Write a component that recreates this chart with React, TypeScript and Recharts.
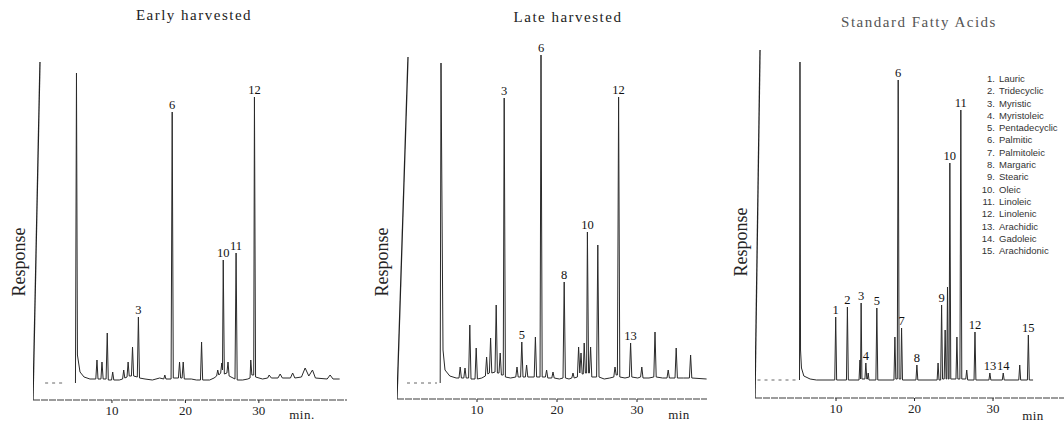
import { LabelList, Line, LineChart, XAxis, YAxis } from 'recharts'

const SERIF = '"Liberation Serif", "DejaVu Serif", serif'
const SANS = '"Liberation Sans", Arial, sans-serif'

const axisTicks = [10, 20, 30]

// Early harvested
const earlyT = [
  5.03, 5.17, 5.3, 5.65, 6.2, 7.0, 7.8, 7.96, 8.1, 8.5, 8.64, 8.8, 9.2, 9.36, 9.5, 9.95, 10.1, 10.25,
  11.0, 11.45, 11.6, 11.75, 12.05, 12.2, 12.35, 12.65, 12.8, 12.95, 13.45, 13.6, 13.75, 14.5, 15.5,
  16.5, 17.05, 17.2, 17.35, 18.05, 18.2, 18.35, 19.05, 19.2, 19.35, 19.55, 19.7, 19.85, 20.8, 21.5,
  22.05, 22.2, 22.35, 23.3, 23.9, 24.25, 24.4, 24.55, 24.8, 24.95, 25.05, 25.15, 25.3, 25.65, 25.8,
  25.95, 26.75, 26.9, 27.05, 27.8, 28.5, 28.8, 28.9, 29.05, 29.3, 29.4, 29.55, 30.5, 31.2, 31.4, 31.7,
  32.6, 32.9, 33.2, 34.3, 34.6, 34.9, 35.8, 36.3, 36.8, 37.3, 37.7, 39.3, 39.7, 40.1, 41.0,
]
const earlyR = [
  17, 327, 45, 28, 23, 21, 21, 40, 21, 21, 38, 21, 21, 67, 20, 20, 28, 20,
  20, 21, 30, 22, 23, 38, 24, 24, 53, 24, 23, 83, 22, 21, 20,
  22, 21, 25, 21, 21, 288, 22, 22, 38, 22, 22, 38, 21, 21, 20,
  20, 58, 20, 20, 22, 24, 30, 25, 27, 37, 30, 140, 26, 27, 38,
  24, 21, 147, 20, 20, 21, 22, 40, 25, 25, 303, 23, 21, 22, 25, 22,
  22, 26, 22, 22, 27, 22, 23, 32, 24, 30, 22, 21, 25, 21, 21,
]
const earlyInjT = [-0.75, 0.2]
const earlyInjR = [0, 338]
const earlyPreT = [0.9, 3.6]
const earlyPreR = [17, 17]
const earlyPeakNo = ['3', '6', '10', '11', '12']
const earlyPeakAt = [13.6, 18.2, 25.15, 26.9, 29.4]

// Late harvested
const lateT = [
  5.4, 5.5, 5.75, 6.0, 6.6, 7.4, 7.75, 7.9, 8.05, 8.35, 8.5, 8.65, 8.95, 9.1, 9.25, 9.75, 9.9, 10.05,
  10.6, 11.05, 11.2, 11.35, 11.55, 11.7, 11.85, 12.25, 12.4, 12.55, 12.75, 12.9, 13.05, 13.28, 13.4,
  13.55, 14.2, 14.85, 15.0, 15.15, 15.45, 15.6, 15.75, 16.05, 16.2, 16.35, 17.15, 17.3, 17.45, 17.88,
  18.0, 18.15, 18.55, 18.7, 18.85, 19.35, 19.5, 19.65, 20.3, 20.75, 20.9, 21.05, 21.5, 21.85, 22.0,
  22.15, 22.55, 22.7, 22.85, 23.0, 23.15, 23.28, 23.4, 23.55, 23.7, 23.8, 23.95, 24.05, 24.2, 24.35,
  24.95, 25.1, 25.25, 25.9, 26.6, 27.1, 27.25, 27.4, 27.55, 27.7, 27.85, 28.5, 29.05, 29.2, 29.35,
  30.1, 30.45, 30.6, 30.75, 31.5, 32.1, 32.25, 32.4, 33.2, 33.75, 33.9, 34.05, 34.75, 34.9, 35.05,
  35.8, 36.55, 36.7, 36.85, 38.7,
]
const lateR = [
  16, 336, 49, 29, 23, 21, 21, 32, 21, 21, 31, 21, 21, 74, 20, 20, 51, 20,
  21, 23, 42, 25, 26, 61, 26, 27, 94, 26, 26, 46, 24, 24, 301,
  22, 21, 22, 32, 22, 22, 57, 22, 22, 34, 22, 22, 62, 22, 22,
  344, 22, 22, 29, 21, 21, 27, 21, 20, 21, 117, 21, 20, 21, 26,
  21, 22, 52, 26, 46, 25, 25, 56, 26, 26, 167, 26, 26, 52, 22,
  22, 154, 22, 20, 21, 22, 32, 24, 24, 302, 22, 21, 22, 56, 22,
  21, 22, 32, 21, 21, 22, 67, 22, 21, 21, 29, 21, 21, 51, 21,
  21, 21, 44, 21, 20,
]
const lateInjT = [0, 1.375]
const lateInjR = [0, 342]
const latePreT = [1.25, 5.0]
const latePreR = [16, 16]
const latePeakNo = ['3', '5', '6', '8', '10', '12', '13']
const latePeakAt = [13.4, 15.6, 18.0, 20.9, 23.8, 27.7, 29.2]

// Standard fatty acids
const stdT = [
  5.35, 5.41, 5.48, 5.6, 5.9, 6.7, 7.5, 9.84, 9.96, 10.08, 11.33, 11.45, 11.57, 12.93, 13.05, 13.12,
  13.2, 13.3, 13.68, 13.8, 13.92, 14.0, 14.1, 14.2, 15.08, 15.2, 15.32, 17.38, 17.5, 17.62, 17.8,
  17.92, 18.04, 18.25, 18.35, 18.47, 20.18, 20.3, 20.42, 22.88, 23.0, 23.12, 23.33, 23.45, 23.57,
  23.78, 23.9, 24.02, 24.1, 24.2, 24.3, 24.4, 24.5, 24.62, 25.28, 25.4, 25.52, 25.78, 25.9, 26.02,
  26.53, 26.65, 26.77, 27.58, 27.7, 27.82, 29.48, 29.6, 29.72, 31.18, 31.3, 31.42, 33.28, 33.4, 33.52,
  34.38, 34.5, 34.62, 35.1,
]
const stdR = [
  18, 336, 48, 30, 22, 19, 18, 18, 81, 18, 18, 91, 18, 18, 38, 19,
  95, 19, 19, 35, 19, 19, 25, 18, 18, 90, 18, 18, 61, 19, 19,
  318, 19, 19, 70, 18, 18, 33, 18, 18, 35, 18, 18, 93, 19,
  19, 68, 19, 19, 111, 19, 19, 235, 19, 19, 61, 19, 19, 288, 19,
  19, 28, 18, 18, 66, 18, 18, 25, 18, 18, 25, 18, 18, 33, 18,
  18, 63, 18, 18,
]
const stdInjT = [-0.32, 0.32]
const stdInjR = [0, 348]
const stdPreT = [0, 5.0]
const stdPreR = [18, 18]
const stdPeakNo = ['1', '2', '3', '4', '5', '6', '7', '8', '9', '10', '11', '12', '13', '14', '15']
const stdPeakAt = [9.96, 11.45, 13.2, 13.8, 15.2, 17.92, 18.35, 20.3, 23.45, 24.5, 25.9, 27.7, 29.6, 31.3, 34.5]

const acidNames = [
  'Lauric', 'Tridecyclic', 'Myristic', 'Myristoleic', 'Pentadecyclic', 'Palmitic', 'Palmitoleic',
  'Margaric', 'Stearic', 'Oleic', 'Linoleic', 'Linolenic', 'Arachidic', 'Gadoleic', 'Arachidonic',
]

const toPoints = (ts: number[], rs: number[]) => ts.map((t, i) => ({ t, r: rs[i] }))

const toTrace = (ts: number[], rs: number[], at: number[], nos: string[]) =>
  ts.map((t, i) => {
    const k = at.indexOf(t)
    return { t, r: rs[i], label: k >= 0 ? nos[k] : undefined }
  })

interface PanelProps {
  left: number
  width: number
  margin: { top: number; right: number; left: number; bottom: number }
  axisHeight: number
  domain: [number, number]
  trace: { t: number; r: number; label?: string }[]
  inj: { t: number; r: number }[]
  pre: { t: number; r: number }[]
}

function Chromatogram({ left, width, margin, axisHeight, domain, trace, inj, pre }: PanelProps) {
  return (
    <div style={{ position: 'absolute', left, top: 0 }}>
      <LineChart width={width} height={423} margin={margin}>
        <XAxis
          dataKey='t'
          type='number'
          domain={domain}
          ticks={axisTicks}
          allowDataOverflow
          height={axisHeight}
          tickSize={3}
          tickMargin={3}
          axisLine={{ stroke: '#3a3a3a', strokeWidth: 1.2, strokeDasharray: '7 1' }}
          tickLine={{ stroke: '#222' }}
          tick={{ fill: '#222', fontSize: 13, fontFamily: SERIF }}
        />
        <YAxis hide type='number' domain={[0, 350]} allowDataOverflow />
        <Line
          data={inj}
          dataKey='r'
          stroke='#222'
          strokeWidth={1.3}
          dot={false}
          isAnimationActive={false}
        />
        <Line
          data={pre}
          dataKey='r'
          stroke='#666'
          strokeWidth={1}
          strokeDasharray='3 4'
          dot={false}
          isAnimationActive={false}
        />
        <Line
          data={trace}
          dataKey='r'
          stroke='#2a2a2a'
          strokeWidth={1}
          dot={false}
          isAnimationActive={false}
        >
          <LabelList
            dataKey='label'
            position='top'
            offset={3}
            fill='#111'
            style={{ fontFamily: SERIF, fontSize: 12.5, fill: '#111' }}
          />
        </Line>
      </LineChart>
    </div>
  )
}

const textStyle = (x: number, y: number, size: number, extra = {}) => ({
  position: 'absolute' as const,
  left: x,
  top: y,
  transform: 'translate(-50%, -50%)',
  fontFamily: SERIF,
  fontSize: size,
  color: '#222',
  whiteSpace: 'nowrap' as const,
  ...extra,
})

const rotated = { transform: 'translate(-50%, -50%) rotate(-90deg)' }

export default function App() {
  return (
    <div style={{ position: 'absolute', left: 0, top: 0, width: 1064, height: 423, background: '#fff', overflow: 'hidden' }}>
      <Chromatogram
        left={0}
        width={355}
        margin={{ top: 50, right: 8, left: 33, bottom: 0 }}
        axisHeight={23}
        domain={[-0.75, 42]}
        trace={toTrace(earlyT, earlyR, earlyPeakAt, earlyPeakNo)}
        inj={toPoints(earlyInjT, earlyInjR)}
        pre={toPoints(earlyPreT, earlyPreR)}
      />
      <Chromatogram
        left={360}
        width={355}
        margin={{ top: 49, right: 8, left: 37, bottom: 0 }}
        axisHeight={24}
        domain={[0, 38.75]}
        trace={toTrace(lateT, lateR, latePeakAt, latePeakNo)}
        inj={toPoints(lateInjT, lateInjR)}
        pre={toPoints(latePreT, latePreR)}
      />
      <Chromatogram
        left={720}
        width={344}
        margin={{ top: 48, right: 0, left: 35, bottom: 0 }}
        axisHeight={25}
        domain={[-0.32, 39.04]}
        trace={toTrace(stdT, stdR, stdPeakAt, stdPeakNo)}
        inj={toPoints(stdInjT, stdInjR)}
        pre={toPoints(stdPreT, stdPreR)}
      />

      <div style={textStyle(194, 15, 15, { letterSpacing: 1.5 })}>Early harvested</div>
      <div style={textStyle(568, 17, 15, { letterSpacing: 1.5 })}>Late harvested</div>
      <div style={textStyle(919, 22, 15, { letterSpacing: 1.5, color: '#555' })}>Standard Fatty Acids</div>

      <div style={textStyle(19, 262, 18, rotated)}>Response</div>
      <div style={textStyle(382, 262, 18, rotated)}>Response</div>
      <div style={textStyle(741, 242, 18, rotated)}>Response</div>

      <div style={textStyle(302, 415, 13, { letterSpacing: 0.5 })}>min.</div>
      <div style={textStyle(679, 415, 13, { letterSpacing: 0.5 })}>min</div>
      <div style={textStyle(1033, 416, 13, { letterSpacing: 0.5 })}>min</div>

      <div style={{ position: 'absolute', left: 978, top: 73, fontFamily: SANS, fontSize: 9.5, color: '#333', lineHeight: '12.3px' }}>
        {acidNames.map((name, i) => (
          <div key={name} style={{ display: 'flex', whiteSpace: 'nowrap' }}>
            <span style={{ width: 17, textAlign: 'right', marginRight: 4 }}>{`${i + 1}.`}</span>
            <span>{name}</span>
          </div>
        ))}
      </div>
    </div>
  )
}
